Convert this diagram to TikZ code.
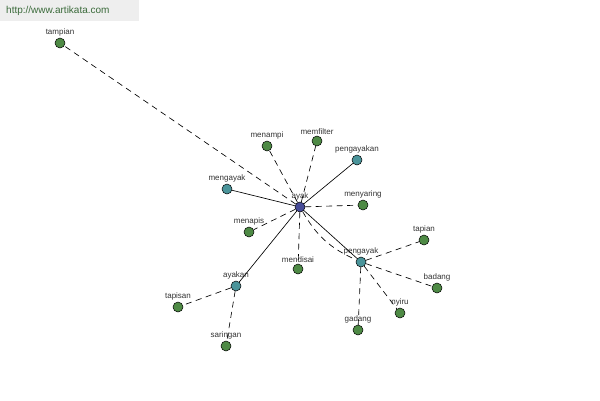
\documentclass[tikz,border=0pt]{standalone}
\usepackage{fontspec}
\setmainfont{Liberation Sans}
\definecolor{green2}{HTML}{4E8A45}
\definecolor{teal2}{HTML}{4A949A}
\definecolor{navy2}{HTML}{474C98}
\definecolor{wm}{HTML}{EEEEEE}
\definecolor{wmtext}{HTML}{3A6A3A}
\begin{document}
\begin{tikzpicture}[x=1pt,y=-1pt,
  vtx/.style={circle,draw=black,line width=0.5pt,minimum size=10pt,inner sep=0pt},
  gr/.style={vtx,fill=green2},
  tl/.style={vtx,fill=teal2},
  bl/.style={vtx,fill=navy2},
  lab/.style={label={[font=\fontsize{8}{9}\selectfont,text=black!80,inner sep=1pt]above:#1}},
  dsh/.style={dash pattern=on 6pt off 4.5pt,line width=0.65pt},
  sol/.style={line width=0.65pt}]
\useasboundingbox (0,0) rectangle (600,400);
\fill[white] (0,0) rectangle (600,400);
\fill[wm] (0,0) rectangle (139,21);
\node[font=\fontsize{10}{12}\selectfont,text=wmtext,anchor=west,inner sep=0pt] (wmk) at (6,11) {http://www.artikata.com};
\coordinate (pa) at (300,207);
\coordinate (pmengayak) at (227,189);
\coordinate (ppengayakan) at (357,160);
\coordinate (ppengayak) at (361,262);
\coordinate (payakan) at (236,286);
\coordinate (ptampian) at (60,43);
\coordinate (pmenampi) at (267,146);
\coordinate (pmemfilter) at (317,141);
\coordinate (pmenyaring) at (363,205);
\coordinate (pmenapis) at (249,232);
\coordinate (pmendisai) at (298,269);
\coordinate (ptapian) at (424,240);
\coordinate (pbadang) at (437,288);
\coordinate (pnyiru) at (400,313);
\coordinate (pgadang) at (358,330);
\coordinate (ptapisan) at (178,307);
\coordinate (psaringan) at (226,346);
\node[bl,lab=ayak] (ayak) at (pa) {};
\node[tl,lab=mengayak] (mengayak) at (pmengayak) {};
\node[tl,lab=pengayakan] (pengayakan) at (ppengayakan) {};
\node[tl,lab=pengayak] (pengayak) at (ppengayak) {};
\node[tl,lab=ayakan] (ayakan) at (payakan) {};
\node[gr,lab=tampian] (tampian) at (ptampian) {};
\node[gr,lab=menampi] (menampi) at (pmenampi) {};
\node[gr,lab=memfilter] (memfilter) at (pmemfilter) {};
\node[gr,lab=menyaring] (menyaring) at (pmenyaring) {};
\node[gr,lab=menapis] (menapis) at (pmenapis) {};
\node[gr,lab=mendisai] (mendisai) at (pmendisai) {};
\node[gr,lab=tapian] (tapian) at (ptapian) {};
\node[gr,lab=badang] (badang) at (pbadang) {};
\node[gr,lab=nyiru] (nyiru) at (pnyiru) {};
\node[gr,lab=gadang] (gadang) at (pgadang) {};
\node[gr,lab=tapisan] (tapisan) at (ptapisan) {};
\node[gr,lab=saringan] (saringan) at (psaringan) {};
\draw[sol] (ayak) -- (mengayak);
\draw[sol] (ayak) -- (pengayakan);
\draw[sol] (ayak) -- (pengayak);
\draw[sol] (ayak) -- (ayakan);
\draw[dsh] (ayak) to[bend right=18] (pengayak);
\draw[dsh] (ayak) -- (tampian);
\draw[dsh] (ayak) -- (menampi);
\draw[dsh] (ayak) -- (memfilter);
\draw[dsh] (ayak) -- (menyaring);
\draw[dsh] (ayak) -- (menapis);
\draw[dsh] (ayak) -- (mendisai);
\draw[dsh] (pengayak) -- (tapian);
\draw[dsh] (pengayak) -- (badang);
\draw[dsh] (pengayak) -- (nyiru);
\draw[dsh] (pengayak) -- (gadang);
\draw[dsh] (ayakan) -- (tapisan);
\draw[dsh] (ayakan) -- (saringan);
\end{tikzpicture}
\end{document}
